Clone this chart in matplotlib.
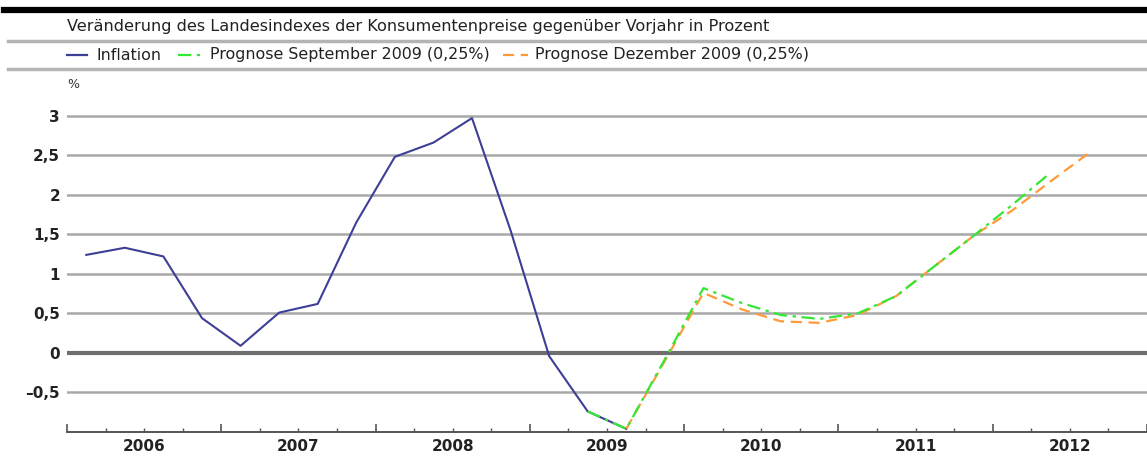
import matplotlib

matplotlib.use("Agg")
import matplotlib.pyplot as plt
from matplotlib.lines import Line2D

# quarterly values, positions are quarter midpoints
infl_quarters = ["2006Q1", "2006Q2", "2006Q3", "2006Q4", "2007Q1", "2007Q2", "2007Q3", "2007Q4",
                 "2008Q1", "2008Q2", "2008Q3", "2008Q4", "2009Q1", "2009Q2", "2009Q3"]
inflation = [1.24, 1.33, 1.22, 0.44, 0.09, 0.51, 0.62, 1.65, 2.48, 2.66, 2.97, 1.55, -0.04, -0.74, -0.96]

sep_quarters = ["2009Q2", "2009Q3", "2009Q4", "2010Q1", "2010Q2", "2010Q3", "2010Q4",
                "2011Q1", "2011Q2", "2011Q3", "2011Q4", "2012Q1", "2012Q2"]
prognose_sep = [-0.74, -0.96, -0.08, 0.82, 0.63, 0.48, 0.43, 0.50, 0.72, 1.10, 1.48, 1.87, 2.28]

dez_quarters = ["2009Q3", "2009Q4", "2010Q1", "2010Q2", "2010Q3", "2010Q4",
                "2011Q1", "2011Q2", "2011Q3", "2011Q4", "2012Q1", "2012Q2", "2012Q3"]
prognose_dez = [-0.96, -0.10, 0.76, 0.55, 0.40, 0.38, 0.48, 0.72, 1.10, 1.48, 1.80, 2.17, 2.53]

years = [2006, 2007, 2008, 2009, 2010, 2011, 2012]
y_ticks = [-0.5, 0, 0.5, 1, 1.5, 2, 2.5, 3]
y_labels = ["–0,5", "0", "0,5", "1", "1,5", "2", "2,5", "3"]

subtitle = "Veränderung des Landesindexes der Konsumentenpreise gegenüber Vorjahr in Prozent"
legend_labels = ["Inflation", "Prognose September 2009 (0,25%)", "Prognose Dezember 2009 (0,25%)"]

C_INFL = "#3d3f96"
C_SEP = "#33e833"
C_DEZ = "#ff9a3a"
DASH_SEP = (6, 2.5, 1.5, 2.5)
DASH_DEZ = (5, 3)


def to_x(q):
    year, quarter = q.split("Q")
    return int(year) + (int(quarter) - 0.5) / 4


W, H = 1147, 457
fig = plt.figure(figsize=(W / 100, H / 100), dpi=100)
ax = fig.add_axes([67 / W, 1 - 432 / H, 1 - 67 / W, 340 / H])

ax.set_xlim(2006, 2012.94)
ax.set_ylim(-1, 3.3)

for v in y_ticks:
    if v == 0:
        ax.axhline(v, color="#6e6e6e", lw=3, zorder=1)
    else:
        ax.axhline(v, color="#a8a8a8", lw=1.8, zorder=1)

ax.plot([to_x(q) for q in infl_quarters], inflation, color=C_INFL, lw=1.5, zorder=3)
ax.plot([to_x(q) for q in dez_quarters], prognose_dez, color=C_DEZ, lw=1.6,
        dashes=DASH_DEZ, zorder=4)
ax.plot([to_x(q) for q in sep_quarters], prognose_sep, color=C_SEP, lw=1.6,
        dashes=DASH_SEP, zorder=5)

for s in ["top", "right", "left"]:
    ax.spines[s].set_visible(False)
ax.spines["bottom"].set_color("#555555")
ax.spines["bottom"].set_linewidth(1.4)

ax.set_yticks(y_ticks)
ax.set_yticklabels(y_labels, fontsize=11, fontweight="bold", color="#222222")
ax.tick_params(axis="y", length=0, pad=5)

ax.set_xticks(years + [2013])
ax.set_xticks([y + q / 4 for y in years for q in (1, 2, 3)], minor=True)
ax.set_xticklabels([])
ax.tick_params(axis="x", which="major", direction="in", length=6, width=1.2, color="#555555")
ax.tick_params(axis="x", which="minor", direction="in", length=3, width=1, color="#555555")

for y in years:
    ax.text(y + 0.5, -0.044, str(y), transform=ax.get_xaxis_transform(),
            ha="center", va="center", fontsize=11, fontweight="bold", color="#222222")

fig.text(67 / W, 1 - 85 / H, "%", fontsize=9, color="#333333", ha="left", va="center")

# header
fig.add_artist(Line2D([4 / W, 1], [1 - 10 / H] * 2, color="black", lw=4.5))
fig.add_artist(Line2D([8 / W, 1], [1 - 41 / H] * 2, color="#b4b4b4", lw=2.5))
fig.add_artist(Line2D([8 / W, 1], [1 - 69 / H] * 2, color="#b4b4b4", lw=2.5))
fig.text(67 / W, 1 - 26 / H, subtitle, fontsize=11.6, color="#222222", va="center")

legend_y = 1 - 55 / H
samples = [(67, 87, C_INFL, None), (178, 200, C_SEP, DASH_SEP), (503, 528, C_DEZ, DASH_DEZ)]
text_x = [97, 210, 535]
for (x0, x1, col, dash), tx, lab in zip(samples, text_x, legend_labels):
    ln = Line2D([x0 / W, x1 / W], [legend_y] * 2, color=col, lw=1.6)
    if dash:
        ln.set_dashes(dash)
    fig.add_artist(ln)
    fig.text(tx / W, legend_y, lab, fontsize=11.4, color="#222222", va="center")

fig.savefig("out.png", dpi=100)
